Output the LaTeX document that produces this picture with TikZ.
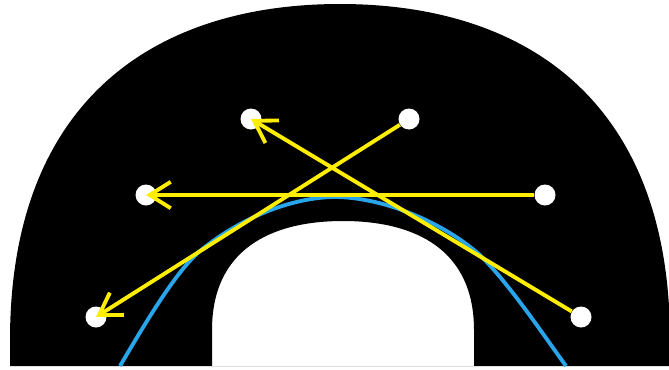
\documentclass[tikz,border=0pt]{standalone}
\usetikzlibrary{arrows.meta}

\definecolor{curveblue}{RGB}{40,165,235}
\definecolor{arrowyellow}{RGB}{255,238,0}

\begin{document}
\begin{tikzpicture}[
  x=0.02cm, y=-0.02cm,
  >={Straight Barb[length=12pt,width=15pt]},
  dot/.style={circle, fill=white, inner sep=0pt, minimum size=0.42cm},
  move/.style={->, line width=2.2pt, arrowyellow},
  fit/.style={line width=2.2pt, curveblue},
]
  \useasboundingbox (0,0) rectangle (669,369);

  % Arch with its hole
  \fill[black, even odd rule]
    (10,366) -- (10,340) .. controls (10,100) and (155,4) .. (340,4)
    .. controls (525,4) and (670,100) .. (670,340) -- (670,366) -- cycle
    (212,366) -- (212,330) .. controls (212,250) and (270,221) .. (343,221)
    .. controls (416,221) and (474,250) .. (474,330) -- (474,366) -- cycle;

  % Fitted curve
  \draw[fit] (120,366) .. controls (150,315) and (180,265) .. (205,247)
    .. controls (250,212) and (300,197) .. (335,197)
    .. controls (380,197) and (440,220) .. (480,255)
    .. controls (510,285) and (540,330) .. (566,366);

  % Points
  \node[dot] (a) at (96,317) {};
  \node[dot] (b) at (146,195) {};
  \node[dot] (c) at (251,119) {};
  \node[dot] (d) at (409,119) {};
  \node[dot] (e) at (545,195) {};
  \node[dot] (f) at (581,317) {};

  % Moves
  \draw[move] (d) -- (a.center);
  \draw[move] (e) -- (b.center);
  \draw[move] (f) -- (c.center);
\end{tikzpicture}
\end{document}
